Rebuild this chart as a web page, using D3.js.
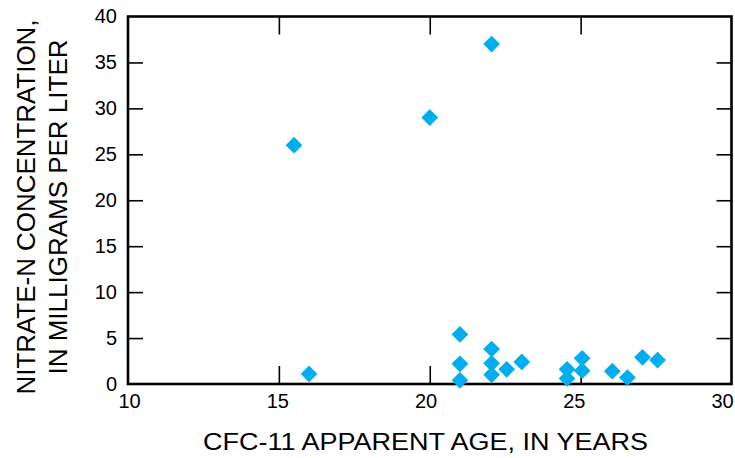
<!DOCTYPE html>
<html>
<head>
<meta charset="utf-8">
<script src="https://cdn.jsdelivr.net/npm/d3@7"></script>
<style>
  html, body { margin: 0; padding: 0; background: #fff; }
  svg { display: block; }
  text { font-family: "Liberation Sans", Arial, sans-serif; fill: #000; }
</style>
</head>
<body>
<svg id="chart" width="735" height="458"></svg>
<script>
// CFC-11 apparent age of sampled water (years) vs nitrate-N (mg/L)
const ages    = [15.5, 16.0, 20.0, 21.0, 21.0, 21.0, 22.05, 22.05, 22.05, 22.05,
                 22.55, 23.05, 24.55, 24.55, 25.05, 25.05, 26.05, 26.55, 27.05, 27.55];
const nitrate = [26.0, 1.1, 29.0, 5.4, 2.2, 0.4, 37.0, 3.8, 2.25, 1.0,
                 1.6, 2.4, 1.6, 0.6, 2.8, 1.45, 1.4, 0.7, 2.9, 2.6];

const xTicks = [10, 15, 20, 25, 30];
const yTicks = [0, 5, 10, 15, 20, 25, 30, 35, 40];
const xTitle = "CFC-11 APPARENT AGE, IN YEARS";
const yTitleLines = ["NITRATE-N CONCENTRATION,", "IN MILLIGRAMS PER LITER"];

const svg = d3.select("#chart");
const plotL = 128, plotR = 731.5, plotT = 16.5, plotB = 384;

const x = d3.scaleLinear().domain([10, 30]).range([plotL, plotR]);
const y = d3.scaleLinear().domain([0, 40]).range([plotB, plotT]);
// tick labels sit on a slightly narrower span than the tick marks
const xLabel = d3.scaleLinear().domain([10, 30]).range([129, 722]);

const innerX = xTicks.slice(1, -1);
const innerY = yTicks.slice(1, -1);

function tickStyle(g) {
  g.select(".domain").remove();
  g.selectAll("line").attr("stroke", "#000").attr("stroke-width", 1.6);
}

// inward tick marks on all four sides
svg.append("g").attr("transform", `translate(0,${plotB})`)
  .call(d3.axisTop(x).tickValues(innerX).tickSize(18).tickFormat(""))
  .call(tickStyle);
svg.append("g").attr("transform", `translate(0,${plotT})`)
  .call(d3.axisBottom(x).tickValues(innerX).tickSize(18).tickFormat(""))
  .call(tickStyle);
svg.append("g").attr("transform", `translate(${plotL},0)`)
  .call(d3.axisRight(y).tickValues(innerY).tickSize(15).tickFormat(""))
  .call(tickStyle);
svg.append("g").attr("transform", `translate(${plotR},0)`)
  .call(d3.axisLeft(y).tickValues(innerY).tickSize(15).tickFormat(""))
  .call(tickStyle);

// tick labels
function labelStyle(g) {
  g.select(".domain").remove();
  g.selectAll("text").attr("font-size", 20)
    .attr("font-family", "Liberation Sans, Arial, sans-serif").attr("fill", "#000");
}
svg.append("g").attr("transform", `translate(0,${plotB})`)
  .call(d3.axisBottom(xLabel).tickValues(xTicks).tickSize(0).tickPadding(10).tickFormat(d3.format("d")))
  .call(labelStyle);
svg.append("g").attr("transform", `translate(${plotL},0)`)
  .call(d3.axisLeft(y).tickValues(yTicks).tickSize(0).tickPadding(11).tickFormat(d3.format("d")))
  .call(labelStyle);

// frame
svg.append("rect")
  .attr("x", plotL).attr("y", plotT)
  .attr("width", plotR - plotL).attr("height", plotB - plotT)
  .attr("fill", "none").attr("stroke", "#000").attr("stroke-width", 2.6);

// points
const diamond = d3.symbol().type(d3.symbolSquare).size(140);
svg.append("g").selectAll("path")
  .data(ages.map((a, i) => ({ age: a, n: nitrate[i] })))
  .join("path")
  .attr("d", diamond)
  .attr("transform", d => `translate(${x(d.age)},${y(d.n)}) rotate(45)`)
  .attr("fill", "#00AEEF");

// axis titles
svg.append("text")
  .attr("x", 425.5).attr("y", 450)
  .attr("text-anchor", "middle")
  .attr("font-size", 23)
  .attr("textLength", 445).attr("lengthAdjust", "spacingAndGlyphs")
  .text(xTitle);

const yT = svg.append("g").attr("transform", "translate(0,207) rotate(-90)");
yT.append("text").attr("x", 0).attr("y", 35)
  .attr("text-anchor", "middle").attr("font-size", 26)
  .attr("textLength", 375).attr("lengthAdjust", "spacingAndGlyphs")
  .text(yTitleLines[0]);
yT.append("text").attr("x", 0).attr("y", 67)
  .attr("text-anchor", "middle").attr("font-size", 26)
  .attr("textLength", 335).attr("lengthAdjust", "spacingAndGlyphs")
  .text(yTitleLines[1]);
</script>
</body>
</html>
